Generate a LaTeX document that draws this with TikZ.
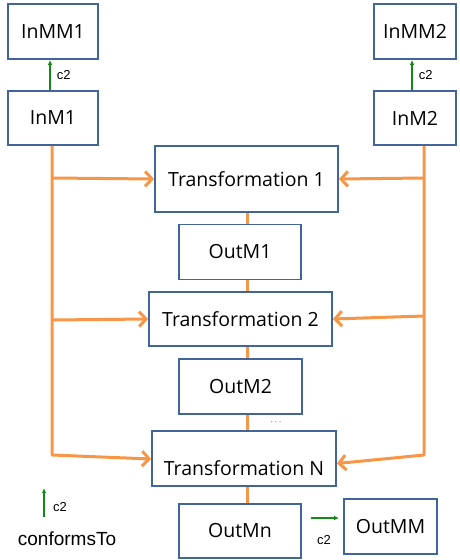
\documentclass[tikz,border=0pt]{standalone}
\usepackage{fontspec}
\setmainfont{Open Sans}
\newfontfamily\arialfont{Liberation Sans}
\usepackage{tikz}
\usetikzlibrary{positioning,arrows.meta,calc}
\definecolor{boxblue}{HTML}{41649A}
\definecolor{feedorange}{HTML}{F79646}
\definecolor{cgreen}{HTML}{138A13}
\begin{document}
\begin{tikzpicture}[x=1pt,y=-1pt,
	box/.style={draw=boxblue,line width=1.8pt,fill=white,font=\fontsize{19.5}{22}\selectfont,inner sep=2pt},
	feed/.style={draw=feedorange,line width=3pt,line join=round},
	feedarrow/.style={feed,-{Straight Barb[length=7pt,width=15pt,line width=3pt]}},
	conform/.style={draw=cgreen,line width=1.2pt,-{Latex[length=5pt,width=4.5pt]}},
	small/.style={font=\arialfont\fontsize{13}{15}\selectfont}]
			\useasboundingbox (0,0) rectangle (459,560);
			% input models and metamodels
			\node[box,minimum width=90pt,minimum height=55pt] (inmm1) at (53,31.5) {InMM1};
			\node[box,minimum width=90pt,minimum height=54pt] (inm1) at (53,118) {InM1};
			\node[box,minimum width=82pt,minimum height=55pt] (inmm2) at (415,31.5) {InMM2};
			\node[box,minimum width=82pt,minimum height=54pt] (inm2) at (415,118) {InM2};
			% chain of transformations
			\node[box,minimum width=183pt,minimum height=66pt] (t1) at (246.5,179) {Transformation 1};
			\node[box,minimum width=122pt,minimum height=55pt] (outm1) at (240,252) {OutM1};
			\node[box,minimum width=183pt,minimum height=54pt] (t2) at (240.5,319) {Transformation 2};
			\node[box,minimum width=123pt,minimum height=55pt] (outm2) at (240.5,386.5) {OutM2};
			\node[box,minimum width=184pt,minimum height=55pt,text height=34pt,text depth=0pt] (tn) at (244,458.5) {Transformation N};
			\node[box,minimum width=122pt,minimum height=54pt] (outmn) at (240,531) {OutMn};
			\node[box,minimum width=93pt,minimum height=55pt] (outmm) at (390.5,526.5) {OutMM};
			\node (dots) at (276,422) {\fontsize{9}{10}\selectfont$\cdots$};
			
			\coordinate (spine) at (247,0);
			\coordinate (l1) at (52,178);
			\coordinate (l2) at (52,320);
			\coordinate (l3) at (52,455);
			\coordinate (r1) at (424,178);
			\coordinate (r2) at (424,316);
			\coordinate (r3) at (424,455);
			
			% links between the steps
			\path[feed] (t1.south -| spine) edge (outm1.north -| spine);
			\path[feed] (outm1.south -| spine) edge (t2.north -| spine);
			\path[feed] (t2.south -| spine) edge (outm2.north -| spine);
			\path[feed] (outm2.south -| spine) edge (tn.north -| spine);
			\path[feed] (tn.south -| spine) edge (outmn.north -| spine);
			
			% inputs fed to every transformation
			\draw[feedarrow] (inm1.south -| l1) -- (l3) -- ($(tn.west)+(0,0.5)$);
			\draw[feedarrow] (l1) -- (t1.west);
			\draw[feedarrow] (l2) -- (t2.west);
			\draw[feedarrow] (inm2.south -| r1) -- (r3) -- ($(tn.east)+(0,5)$);
			\draw[feedarrow] (r1) -- (t1.east);
			\draw[feedarrow] (r2) -- (t2.east);
			
			% conformsTo links
			\draw[conform] ([xshift=-3pt]inm1.north) -- ([xshift=-3pt]inmm1.south) node[small,midway,right=3pt] {c2};
			\draw[conform] ([xshift=-3pt]inm2.north) -- ([xshift=-3pt]inmm2.south) node[small,midway,right=3pt] {c2};
			\coordinate (o1) at ($(outmn.east)+(9,-13)$);
			\coordinate (o2) at ($(outmm.west)+(-4,-8.5)$);
			\draw[conform] (o1) -- (o2);
			\node[small] (oc2) at (324,540) {c2};
			
			% legend
			\coordinate (lg1) at (44,517);
			\coordinate (lg2) at (44,488);
			\draw[conform] (lg1) -- (lg2);
			\node[small] (lc2) at (60,507) {c2};
			\node[font=\arialfont\fontsize{19}{21}\selectfont] (lgtext) at (67,539) {conformsTo};
\end{tikzpicture}
\end{document}
